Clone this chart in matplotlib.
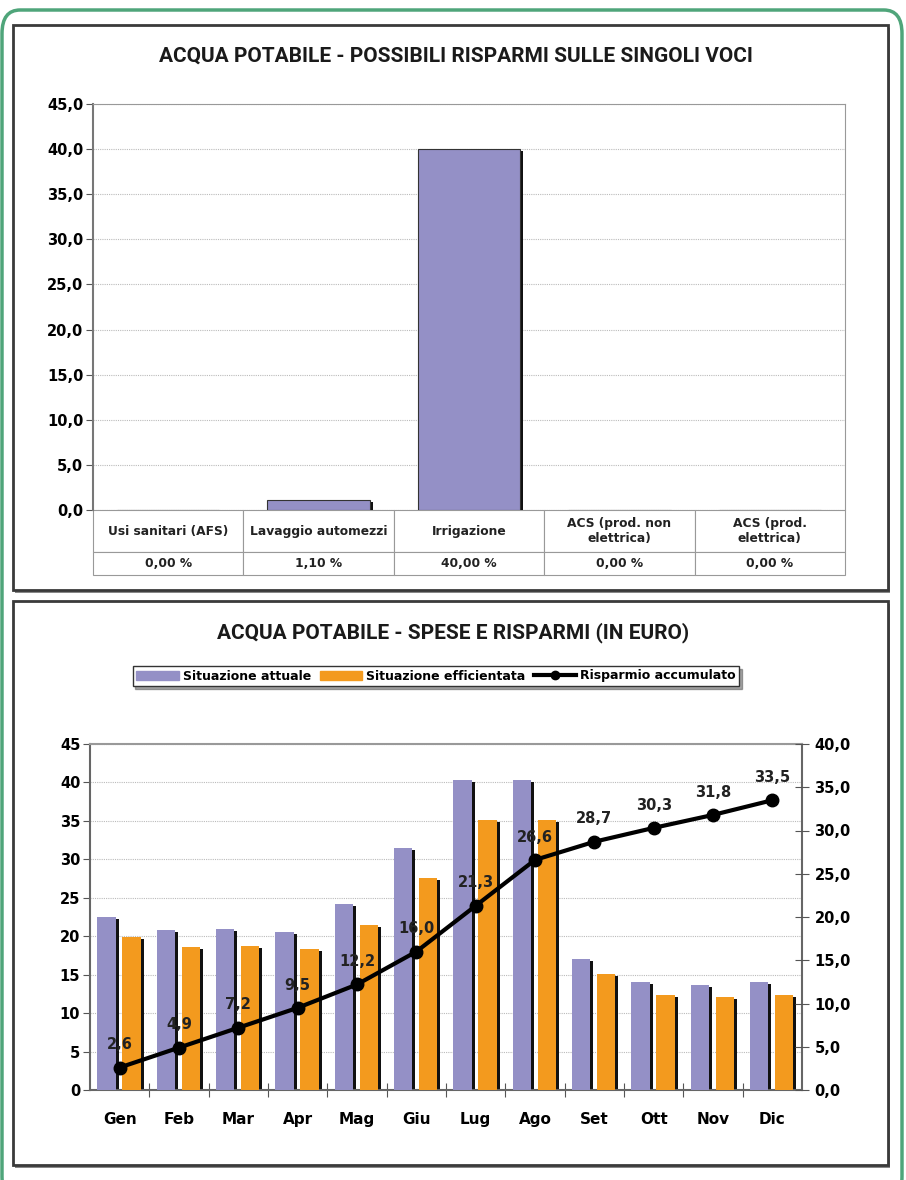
import matplotlib
matplotlib.use('Agg')
import matplotlib.pyplot as plt
import matplotlib.transforms as mtransforms
from matplotlib.patches import Rectangle, FancyBboxPatch
from matplotlib.lines import Line2D
from matplotlib.ticker import FuncFormatter, MultipleLocator

# top chart data
voci = ['Usi sanitari (AFS)', 'Lavaggio automezzi', 'Irrigazione',
        'ACS (prod. non\nelettrica)', 'ACS (prod.\nelettrica)']
risparmi_perc = [0.0, 1.1, 40.0, 0.0, 0.0]

# bottom chart data
mesi = ['Gen', 'Feb', 'Mar', 'Apr', 'Mag', 'Giu', 'Lug', 'Ago', 'Set', 'Ott', 'Nov', 'Dic']
situazione_attuale = [22.5, 20.8, 20.9, 20.5, 24.2, 31.5, 40.3, 40.3, 17.0, 14.0, 13.7, 14.0]
situazione_efficientata = [19.9, 18.6, 18.7, 18.3, 21.5, 27.6, 35.1, 35.1, 15.1, 12.4, 12.1, 12.4]
risparmio_accumulato = [2.6, 4.9, 7.2, 9.5, 12.2, 16.0, 21.3, 26.6, 28.7, 30.3, 31.8, 33.5]

LILLA = '#9490c6'
ARANCIO = '#f39a1e'
W, H = 906, 1180

plt.rcParams['font.family'] = ['DejaVu Sans']
fig = plt.figure(figsize=(W / 100, H / 100), dpi=100)


def fx(px):
    return px / W


def fy(py):
    return 1 - py / H


def comma(v, pos, dec=1):
    return f'{v:.{dec}f}'.replace('.', ',')


# outer green rounded frame and the two panels
fig.patches.append(FancyBboxPatch((fx(2), fy(1200)), fx(900), 1190 / H,
                                  boxstyle='round,pad=0,rounding_size=0.02', transform=fig.transFigure,
                                  facecolor='none', edgecolor='#4fa57a', lw=2.5, zorder=-3))
for top, bot in [(25, 590), (601, 1165)]:
    fig.patches.append(Rectangle((fx(15), fy(bot + 3)), fx(875), (bot - top) / H, transform=fig.transFigure,
                                 facecolor='#888888', edgecolor='none', zorder=-2))
    fig.patches.append(Rectangle((fx(13), fy(bot)), fx(875), (bot - top) / H, transform=fig.transFigure,
                                 facecolor='white', edgecolor='#3a3a3a', lw=2, zorder=-1))

title_font = dict(family=['Liberation Sans Narrow', 'Roboto', 'DejaVu Sans'], fontweight='bold',
                  fontstretch='condensed', fontsize=15, color='#1a1a1a', ha='center', va='center')
fig.text(fx(456), fy(56), 'ACQUA POTABILE - POSSIBILI RISPARMI SULLE SINGOLI VOCI', **title_font)
fig.text(fx(453), fy(633), 'ACQUA POTABILE - SPESE E RISPARMI (IN EURO)', **title_font)

shadow = mtransforms.ScaledTranslation(3 / 100, -2 / 100, fig.dpi_scale_trans)

# ---------- top chart ----------
ax1 = fig.add_axes([fx(93), fy(510), fx(845 - 93), (510 - 104) / H])
x1 = list(range(len(voci)))
sb = ax1.bar(x1, risparmi_perc, width=0.68, color='#111111', zorder=2)
for p in sb:
    p.set_transform(ax1.transData + shadow)
ax1.bar(x1, risparmi_perc, width=0.68, color=LILLA, edgecolor='#333333', lw=0.8, zorder=3)
ax1.set_xlim(-0.5, 4.5)
ax1.set_ylim(0, 45)
ax1.yaxis.set_major_locator(MultipleLocator(5))
ax1.yaxis.set_major_formatter(FuncFormatter(comma))
ax1.set_xticks([])
ax1.grid(axis='y', color='#bbbbbb', ls=(0, (1, 1)), lw=0.8, zorder=0)
for s in ['top', 'right']:
    ax1.spines[s].set_color('#999999')
ax1.spines['left'].set_color('#777777')
ax1.spines['left'].set_linewidth(1.5)
ax1.spines['bottom'].set_visible(False)
ax1.tick_params(axis='y', direction='out', length=5, color='#555555', labelsize=10.5, pad=2)
for t in ax1.get_yticklabels():
    t.set_fontweight('bold')

pct_labels = [f'{v:.2f} %'.replace('.', ',') for v in risparmi_perc]
tbl = ax1.table(cellText=[voci, pct_labels], cellLoc='center',
                bbox=[0, -65 / 406, 1, 65 / 406])
tbl.auto_set_font_size(False)
for (r, c), cell in tbl.get_celld().items():
    cell.set_height(42 if r == 0 else 23)
    cell.set_edgecolor('#999999')
    cell.set_linewidth(0.8)
    cell.get_text().set_fontsize(8.8)
    cell.get_text().set_fontweight('bold')
    cell.get_text().set_color('#222222')

# ---------- bottom chart ----------
ax2 = fig.add_axes([fx(90), fy(1090), fx(802 - 90), (1090 - 744) / H])
x2 = list(range(len(mesi)))
bw = 0.31
xa = [i - 0.22 for i in x2]
xe = [i + 0.2 for i in x2]
for xs, vals in [(xa, situazione_attuale), (xe, situazione_efficientata)]:
    sb = ax2.bar(xs, vals, width=bw, color='#111111', zorder=2)
    for p in sb:
        p.set_transform(ax2.transData + shadow)
ax2.bar(xa, situazione_attuale, width=bw, color=LILLA, zorder=3, label='Situazione attuale')
ax2.bar(xe, situazione_efficientata, width=bw, color=ARANCIO, zorder=3, label='Situazione efficientata')
ax2.set_xlim(-0.5, 11.5)
ax2.set_ylim(0, 45)
ax2.yaxis.set_major_locator(MultipleLocator(5))
ax2.set_xticks([i + 0.5 for i in x2[:-1]], minor=False)
ax2.set_xticklabels([])
ax2.set_xticks(x2, minor=True)
ax2.set_xticklabels(mesi, minor=True)
ax2.tick_params(axis='x', which='major', direction='inout', length=10, color='#555555')
ax2.tick_params(axis='x', which='minor', length=0, pad=16, labelsize=11)
ax2.tick_params(axis='y', direction='out', length=5, color='#555555', labelsize=10.5, pad=2)
ax2.grid(axis='y', color='#bbbbbb', ls=(0, (1, 1)), lw=0.8, zorder=0)
ax2.spines['top'].set_color('#999999')
ax2.spines['top'].set_linewidth(1.5)
for s in ['left', 'bottom', 'right']:
    ax2.spines[s].set_color('#666666')
    ax2.spines[s].set_linewidth(1.5)
for t in ax2.get_yticklabels() + ax2.get_xticklabels(minor=True):
    t.set_fontweight('bold')

ax3 = ax2.twinx()
ax3.plot(x2, risparmio_accumulato, color='black', lw=3, marker='o', ms=9, zorder=5)
ax3.set_ylim(0, 40)
ax3.yaxis.set_major_locator(MultipleLocator(5))
ax3.yaxis.set_major_formatter(FuncFormatter(comma))
ax3.tick_params(axis='y', direction='inout', length=10, color='#555555', labelsize=10.5, pad=4)
for s in ['left', 'bottom', 'right', 'top']:
    ax3.spines[s].set_visible(False)
for t in ax3.get_yticklabels():
    t.set_fontweight('bold')
for xi, v in zip(x2, risparmio_accumulato):
    ax3.annotate(comma(v, None), (xi, v), xytext=(0, 11), textcoords='offset points',
                 ha='center', va='bottom', fontsize=10.5, fontweight='bold', color='#222222', zorder=6)

handles = [Rectangle((0, 0), 1, 1, color=LILLA), Rectangle((0, 0), 1, 1, color=ARANCIO),
           Line2D([], [], color='black', lw=3, marker='o', ms=6)]
leg = fig.legend(handles, ['Situazione attuale', 'Situazione efficientata', 'Risparmio accumulato'],
                 loc='center', bbox_to_anchor=(fx(436), fy(676)), ncol=3, frameon=True,
                 fancybox=False, shadow=True, prop={'weight': 'bold', 'size': 9},
                 handlelength=3.4, handletextpad=0.3, columnspacing=0.7, borderpad=0.3)
leg.get_frame().set_edgecolor('#333333')

fig.savefig('out.png', dpi=100)
